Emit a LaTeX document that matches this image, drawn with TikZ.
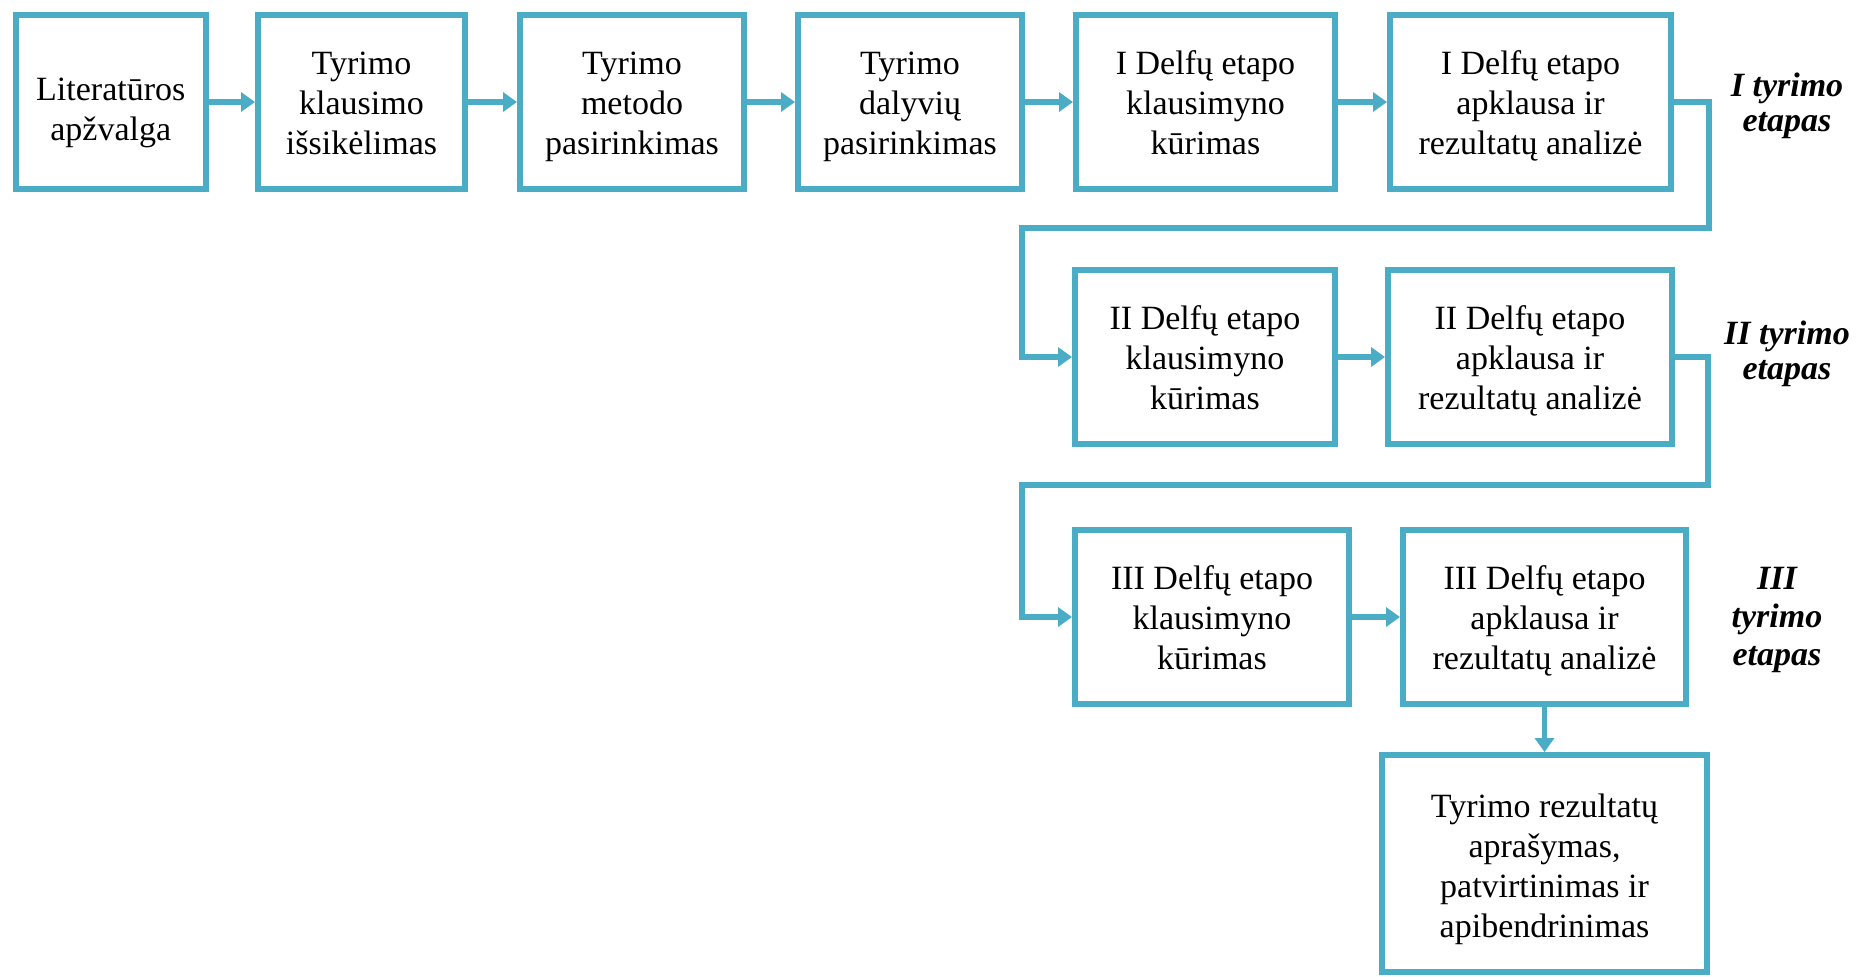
\documentclass[tikz,border=0pt]{standalone}
\usepackage{fontspec}
\setmainfont{LiberationSerif}[
  Extension=.ttf,
  UprightFont=*-Regular,
  BoldFont=*-Bold,
  ItalicFont=*-Italic,
  BoldItalicFont=*-BoldItalic]
\usetikzlibrary{arrows.meta}
\definecolor{aqua}{HTML}{4BACC6}
% taller strut for the first line of a box, pushes the text block down a little
\newcommand\boxtopstrut[1][18pt]{\rule{0pt}{#1}}
\begin{document}
\begin{tikzpicture}[x=0.5pt,y=-0.5pt,
  box/.style={draw=aqua, line width=3pt, align=center, inner sep=0pt,
    font=\fontsize{17}{20}\selectfont, minimum height=87pt},
  conn/.style={draw=aqua, line width=2.8pt,
    -{Triangle[length=7pt,width=9.5pt]}},
  phase/.style={align=center,
    font=\fontsize{17}{17.5}\selectfont\bfseries\itshape}]
\useasboundingbox (0,0) rectangle (1868,976);

% first row: preparation and the first Delphi round
\node[box, minimum width=95.25pt] (b1) at (110.75,102) {\boxtopstrut[24pt]Literatūros\\apžvalga\strut};
\node[box, minimum width=103.5pt] (b2) at (361.5,102) {\boxtopstrut Tyrimo\\klausimo\\išsikėlimas\strut};
\node[box, minimum width=112pt] (b3) at (632,102) {\boxtopstrut Tyrimo\\metodo\\pasirinkimas\strut};
\node[box, minimum width=112pt] (b4) at (910,102) {\boxtopstrut Tyrimo\\dalyvių\\pasirinkimas\strut};
\node[box, minimum width=129.5pt] (b5) at (1205.5,102) {\boxtopstrut I Delfų etapo\\klausimyno\\kūrimas\strut};
\node[box, minimum width=140.5pt] (b6) at (1530.5,102) {\boxtopstrut I Delfų etapo\\apklausa ir\\rezultatų analizė\strut};

% second Delphi round
\node[box, minimum width=130pt] (c1) at (1205,357) {\boxtopstrut II Delfų etapo\\klausimyno\\kūrimas\strut};
\node[box, minimum width=142pt] (c2) at (1530,357) {\boxtopstrut II Delfų etapo\\apklausa ir\\rezultatų analizė\strut};

% third Delphi round
\node[box, minimum width=137pt] (d1) at (1212,617) {\boxtopstrut III Delfų etapo\\klausimyno\\kūrimas\strut};
\node[box, minimum width=141.5pt] (d2) at (1544.5,617) {\boxtopstrut III Delfų etapo\\apklausa ir\\rezultatų analizė\strut};

% final step
\node[box, minimum width=162.5pt, minimum height=108.5pt] (e) at (1544.5,863.5)
  {\boxtopstrut[20pt]Tyrimo rezultatų\\aprašymas,\\patvirtinimas ir\\apibendrinimas\strut};

% phase labels
\node[phase] (p1) at (1787,106) {I tyrimo\\etapas};
\node[phase] (p2) at (1787,354) {II tyrimo\\etapas};
\node[phase, font=\fontsize{17}{19}\selectfont\bfseries\itshape] (p3) at (1777,620) {III\\tyrimo\\etapas};

% turning points of the return lines
\coordinate (r1) at (1709,228);
\coordinate (l1) at (1022,228);
\coordinate (r2) at (1708,485);
\coordinate (l2) at (1022,485);

% connectors
\draw[conn] (b1) -- (b2);
\draw[conn] (b2) -- (b3);
\draw[conn] (b3) -- (b4);
\draw[conn] (b4) -- (b5);
\draw[conn] (b5) -- (b6);
\draw[conn] (b6.east) -| (r1) -- (l1) |- (c1.west);
\draw[conn] (c1) -- (c2);
\draw[conn] (c2.east) -| (r2) -- (l2) |- (d1.west);
\draw[conn] (d1) -- (d2);
\draw[conn] (d2) -- (e);
\end{tikzpicture}
\end{document}
